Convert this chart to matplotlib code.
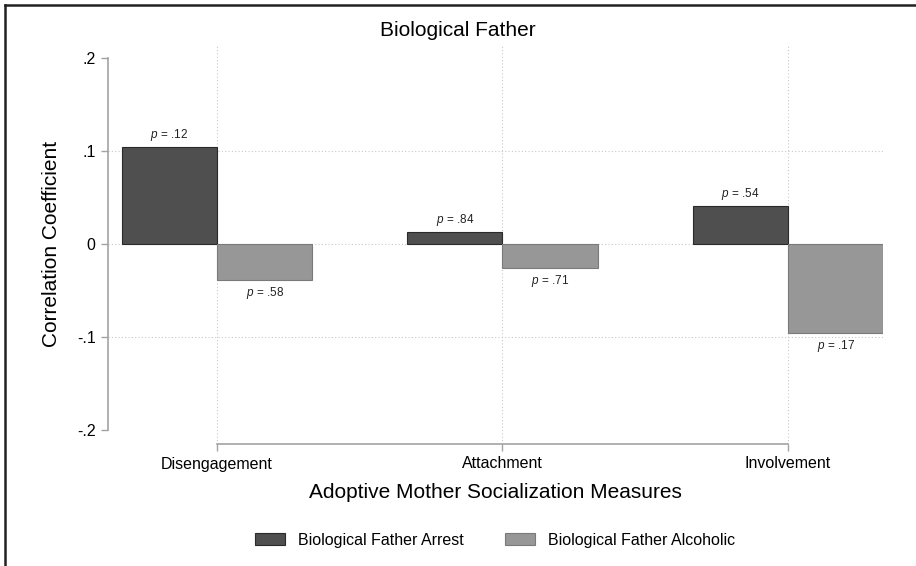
import matplotlib
matplotlib.use("Agg")
import matplotlib.pyplot as plt
from matplotlib.lines import Line2D
import numpy as np

plt.rcParams["font.family"] = ["Liberation Sans", "DejaVu Sans"]
plt.rcParams["mathtext.fontset"] = "custom"
plt.rcParams["mathtext.it"] = "Liberation Sans:italic"
plt.rcParams["mathtext.rm"] = "Liberation Sans"

# data
categories = ["Disengagement", "Attachment", "Involvement"]
arrest_vals = [0.105, 0.013, 0.041]
alcohol_vals = [-0.038, -0.025, -0.095]
arrest_p = [".12", ".84", ".54"]
alcohol_p = [".58", ".71", ".17"]
series_names = ["Biological Father Arrest", "Biological Father Alcoholic"]
yticks = [0.2, 0.1, 0, -0.1, -0.2]
ytick_labels = [".2", ".1", "0", "-.1", "-.2"]

dark = "#4f4f4f"
light = "#979797"
axis_gray = "#a3a3a3"
width = 1 / 3

fig = plt.figure(figsize=(9.16, 5.66), dpi=100)
ax = fig.add_axes([108 / 916, 1 - 444 / 566, 775 / 916, 400 / 566])

pos = np.arange(len(categories))
b1 = ax.bar(pos - width / 2, arrest_vals, width, color=dark, edgecolor="#2a2a2a",
            linewidth=0.8, label=series_names[0], zorder=3)
b2 = ax.bar(pos + width / 2, alcohol_vals, width, color=light, edgecolor="#7a7a7a",
            linewidth=0.8, label=series_names[1], zorder=3)

for x, v, p in zip(pos - width / 2, arrest_vals, arrest_p):
    ax.annotate(f"$p$ = {p}", (x, v), xytext=(0, 3), textcoords="offset points",
                ha="center", va="bottom", fontsize=8.5, color="#222222")
for x, v, p in zip(pos + width / 2, alcohol_vals, alcohol_p):
    ax.annotate(f"$p$ = {p}", (x, v), xytext=(0, -4), textcoords="offset points",
                ha="center", va="top", fontsize=8.5, color="#222222")

ax.set_xlim(-0.382, 2.333)
ax.set_ylim(-0.215, 0.2156)

# grid lines (dotted), only at inner y ticks
for gy in [0.1, 0, -0.1]:
    ax.axhline(gy, color="#c8c8c8", linestyle=(0, (1, 2)), linewidth=0.8, zorder=1)
for gx in pos:
    ax.axvline(gx, color="#c8c8c8", linestyle=(0, (1, 2)), linewidth=0.8, zorder=1)

ax.set_yticks(yticks)
ax.set_yticklabels(ytick_labels)
ax.set_xticks(pos)
ax.set_xticklabels(categories)
ax.tick_params(axis="both", direction="out", length=5, width=1, color=axis_gray,
               labelsize=11.5, pad=4)

for s in ["top", "right"]:
    ax.spines[s].set_visible(False)
ax.spines["left"].set_bounds(-0.2, 0.2)
ax.spines["bottom"].set_bounds(0, 2)
for s in ["left", "bottom"]:
    ax.spines[s].set_color(axis_gray)
    ax.spines[s].set_linewidth(1.2)

ax.set_ylabel("Correlation Coefficient", fontsize=15, labelpad=11)
ax.set_xlabel("Adoptive Mother Socialization Measures", fontsize=15, labelpad=8)
fig.text(0.5, 1 - 30 / 566, "Biological Father", ha="center", va="center", fontsize=15)

fig.legend(handles=[b1, b2], labels=series_names, loc="center",
           bbox_to_anchor=(495 / 916, 1 - 540 / 566), ncol=2, frameon=False,
           fontsize=11.5, handlelength=1.9, handleheight=0.75, handletextpad=0.8,
           columnspacing=2.6)

# outer frame lines (top and left only)
fig.add_artist(Line2D([5 / 916, 1], [1 - 5 / 566, 1 - 5 / 566], color="#222222",
                      linewidth=1.8, transform=fig.transFigure))
fig.add_artist(Line2D([5 / 916, 5 / 916], [0, 1 - 5 / 566], color="#222222",
                      linewidth=1.8, transform=fig.transFigure))

fig.savefig("out.png", dpi=100)
